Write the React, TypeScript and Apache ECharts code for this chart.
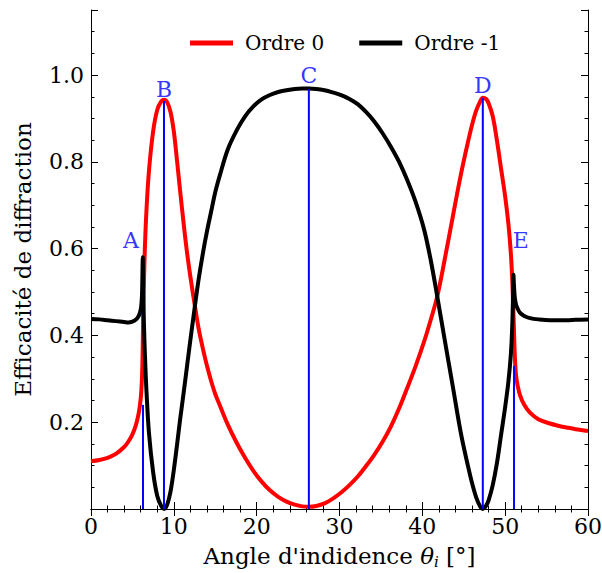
import React, { useEffect, useRef } from 'react';
import * as echarts from 'echarts';

// Angle of incidence (degrees)
const angles = [
  0, 1, 2, 3, 4, 4.5, 5, 5.4, 5.7, 5.9, 6.05, 6.15, 6.2, 6.25, 6.3, 6.4, 6.5, 6.7, 7.0, 7.5,
  8.0, 8.5, 8.85, 9.2, 9.6, 10.0, 10.4, 10.75, 11.2, 11.6, 12.0, 12.56, 13.0, 13.56, 14.0, 14.5,
  15.0, 15.57, 16.5, 17.6, 18.6, 19.6, 20.6, 21.6, 22.6, 23.6, 24.6, 25.5, 26.3, 27.2, 28.2, 29.2,
  30.2, 31.2, 32.2, 33.2, 34.2, 35.2, 36.2, 37.2, 38.2, 39.2, 40.2, 41.0, 41.8, 42.7, 43.7, 44.7,
  45.5, 46.0, 46.5, 47.0, 47.3, 47.7, 48.0, 48.5, 49.0, 49.5, 50.0, 50.4, 50.7, 50.85, 50.95, 51.0,
  51.05, 51.15, 51.3, 51.5, 51.8, 52.3, 53.0, 54.0, 55.4, 56.4, 57.4, 58.5, 60,
];
// Ordre 0 efficiency
const ordre0 = [
  0.110, 0.113, 0.118, 0.127, 0.143, 0.155, 0.172, 0.192, 0.215, 0.238, 0.265, 0.30, 0.33, 0.38, 0.45, 0.53, 0.60, 0.69, 0.78, 0.87,
  0.92, 0.94, 0.943, 0.937, 0.915, 0.87, 0.80, 0.735, 0.655, 0.59, 0.535, 0.466, 0.415, 0.365, 0.33, 0.295,
  0.265, 0.238, 0.195, 0.152, 0.118, 0.088, 0.063, 0.043, 0.028, 0.017, 0.010, 0.006, 0.005, 0.007, 0.013, 0.024,
  0.038, 0.055, 0.075, 0.099, 0.125, 0.155, 0.19, 0.232, 0.28, 0.33, 0.385, 0.435, 0.49, 0.575, 0.676, 0.775,
  0.845, 0.885, 0.918, 0.94, 0.948, 0.945, 0.935, 0.905, 0.85, 0.785, 0.72, 0.655, 0.585, 0.53, 0.48, 0.45,
  0.42, 0.36, 0.31, 0.285, 0.262, 0.24, 0.222, 0.207, 0.197, 0.192, 0.188, 0.184, 0.18,
];
// Ordre -1 efficiency
const ordreMoins1 = [
  0.438, 0.437, 0.435, 0.433, 0.431, 0.430, 0.432, 0.436, 0.443, 0.452, 0.465, 0.49, 0.53, 0.58, 0.50, 0.42, 0.36, 0.27, 0.175, 0.085,
  0.03, 0.006, 0.0, 0.01, 0.04, 0.09, 0.15, 0.205, 0.27, 0.33, 0.39, 0.47, 0.53, 0.595, 0.64, 0.685,
  0.73, 0.77, 0.828, 0.873, 0.905, 0.928, 0.944, 0.954, 0.961, 0.965, 0.968, 0.969, 0.969, 0.968, 0.965, 0.96,
  0.954, 0.945, 0.933, 0.915, 0.893, 0.866, 0.835, 0.80, 0.757, 0.707, 0.645, 0.575, 0.49, 0.39, 0.28, 0.17,
  0.10, 0.06, 0.027, 0.005, 0.0, 0.008, 0.02, 0.055, 0.105, 0.17, 0.235, 0.295, 0.36, 0.42, 0.49, 0.54,
  0.52, 0.49, 0.472, 0.462, 0.452, 0.445, 0.44, 0.437, 0.435, 0.435, 0.435, 0.436, 0.437,
];

// Marked points A..E (vertical lines)
const markerNames = ['A', 'B', 'C', 'D', 'E'];
const markerAngles = [6.28, 8.81, 26.3, 47.3, 51.07];
const markerHeights = [0.24, 0.94, 0.968, 0.948, 0.33];
// Annotation anchors (data coordinates) for the letters
const labelAngles = [4.83, 8.81, 26.3, 47.3, 51.9];
const labelValues = [0.618, 0.966, 1.0, 0.975, 0.618];

const seriesNames = ['Ordre 0', 'Ordre -1'];
const FONT = 'DejaVu Serif';

export default function App() {
  const ref = useRef<HTMLDivElement>(null);
  useEffect(() => {
    document.body.style.margin = '0';
    document.body.style.overflow = 'hidden';
    if (!ref.current) return;
    const chart = echarts.init(ref.current, undefined, { renderer: 'svg' });
    const axisLineStyle = { show: true, lineStyle: { color: '#000', width: 1 } };
    const xCommon = {
      type: 'value' as const,
      min: 0,
      max: 60,
      interval: 10,
      axisLine: axisLineStyle,
      axisTick: { show: true, inside: true, length: 7, lineStyle: { color: '#000', width: 1 } },
      minorTick: { show: true, splitNumber: 5, length: 3.5, lineStyle: { color: '#000', width: 1 } },
      splitLine: { show: false },
      minorSplitLine: { show: false },
    };
    const yMajor = {
      type: 'value' as const,
      min: 0,
      max: 1.15,
      interval: 0.2,
      axisLine: axisLineStyle,
      axisTick: { show: true, inside: true, length: 7, lineStyle: { color: '#000', width: 1 } },
      splitLine: { show: false },
    };
    const yMinor = {
      type: 'value' as const,
      min: 0,
      max: 1.15,
      interval: 0.05,
      axisLine: { show: false },
      axisTick: { show: true, inside: true, length: 3.5, lineStyle: { color: '#000', width: 1 } },
      axisLabel: { show: false },
      splitLine: { show: false },
    };
    const option: any = {
      animation: false,
      backgroundColor: '#fff',
      grid: { left: 91, right: 14, top: 10, bottom: 64, containLabel: false, outerBoundsMode: 'none' },
      legend: {
        data: seriesNames,
        left: 185,
        top: 28,
        icon: 'rect',
        itemWidth: 43,
        itemHeight: 5,
        itemGap: 35,
        textStyle: { fontFamily: FONT, fontSize: 20, color: '#000', padding: [0, 0, 0, 7] },
      },
      xAxis: [
        {
          ...xCommon,
          position: 'bottom',
          axisLabel: { fontFamily: FONT, fontSize: 22, color: '#000', margin: 6 },
          name: "Angle d'indidence {it|θ}{sub|i} [°]",
          nameLocation: 'middle',
          nameGap: 34,
          nameTextStyle: {
            fontFamily: FONT,
            fontSize: 23,
            color: '#000',
            rich: {
              it: { fontFamily: FONT, fontStyle: 'italic', fontSize: 23, color: '#000' },
              sub: { fontFamily: FONT, fontStyle: 'italic', fontSize: 15, color: '#000', padding: [11, 0, 0, 0] },
            },
          },
        },
        { ...xCommon, position: 'top', axisLabel: { show: false } },
      ],
      yAxis: [
        {
          ...yMajor,
          position: 'left',
          axisLabel: {
            fontFamily: FONT,
            fontSize: 22,
            color: '#000',
            margin: 7,
            formatter: (v: number) => {
              const k = Math.round(v * 100);
              return k > 0 && k % 20 === 0 ? v.toFixed(1) : '';
            },
          },
          name: 'Efficacité de diffraction',
          nameLocation: 'middle',
          nameGap: 57,
          nameRotate: 90,
          nameTextStyle: { fontFamily: FONT, fontSize: 23, color: '#000' },
        },
        { ...yMinor, position: 'left' },
        { ...yMajor, position: 'right', axisLabel: { show: false } },
        { ...yMinor, position: 'right' },
      ],
      series: [
        {
          name: seriesNames[0],
          type: 'line',
          data: angles.map((a, i) => [a, ordre0[i]]),
          symbol: 'none',
          smooth: 0.35,
          lineStyle: { color: '#ff0000', width: 4 },
          itemStyle: { color: '#ff0000' },
          z: 2,
        },
        {
          name: seriesNames[1],
          type: 'line',
          data: angles.map((a, i) => [a, ordreMoins1[i]]),
          symbol: 'none',
          smooth: 0.35,
          lineStyle: { color: '#000000', width: 4 },
          itemStyle: { color: '#000000' },
          z: 2,
        },
        ...markerNames.map((n, i) => ({
          name: 'marker-' + n,
          type: 'line',
          data: [
            [markerAngles[i], 0],
            [markerAngles[i], markerHeights[i]],
          ],
          symbol: 'none',
          lineStyle: { color: '#0000ff', width: 2 },
          itemStyle: { color: '#0000ff' },
          z: 3,
          silent: true,
        })),
        {
          name: 'labels',
          type: 'scatter',
          symbolSize: 1,
          itemStyle: { color: 'rgba(0,0,0,0)' },
          data: markerNames.map((n, i) => ({ value: [labelAngles[i], labelValues[i]], name: n })),
          label: {
            show: true,
            position: 'inside',
            formatter: (p: any) => p.name,
            fontFamily: FONT,
            fontSize: 22,
            color: '#0000ff',
          },
          z: 4,
          silent: true,
        },
      ],
    };
    chart.setOption(option);
    return () => chart.dispose();
  }, []);
  return <div ref={ref} style={{ width: 602, height: 573 }} />;
}
